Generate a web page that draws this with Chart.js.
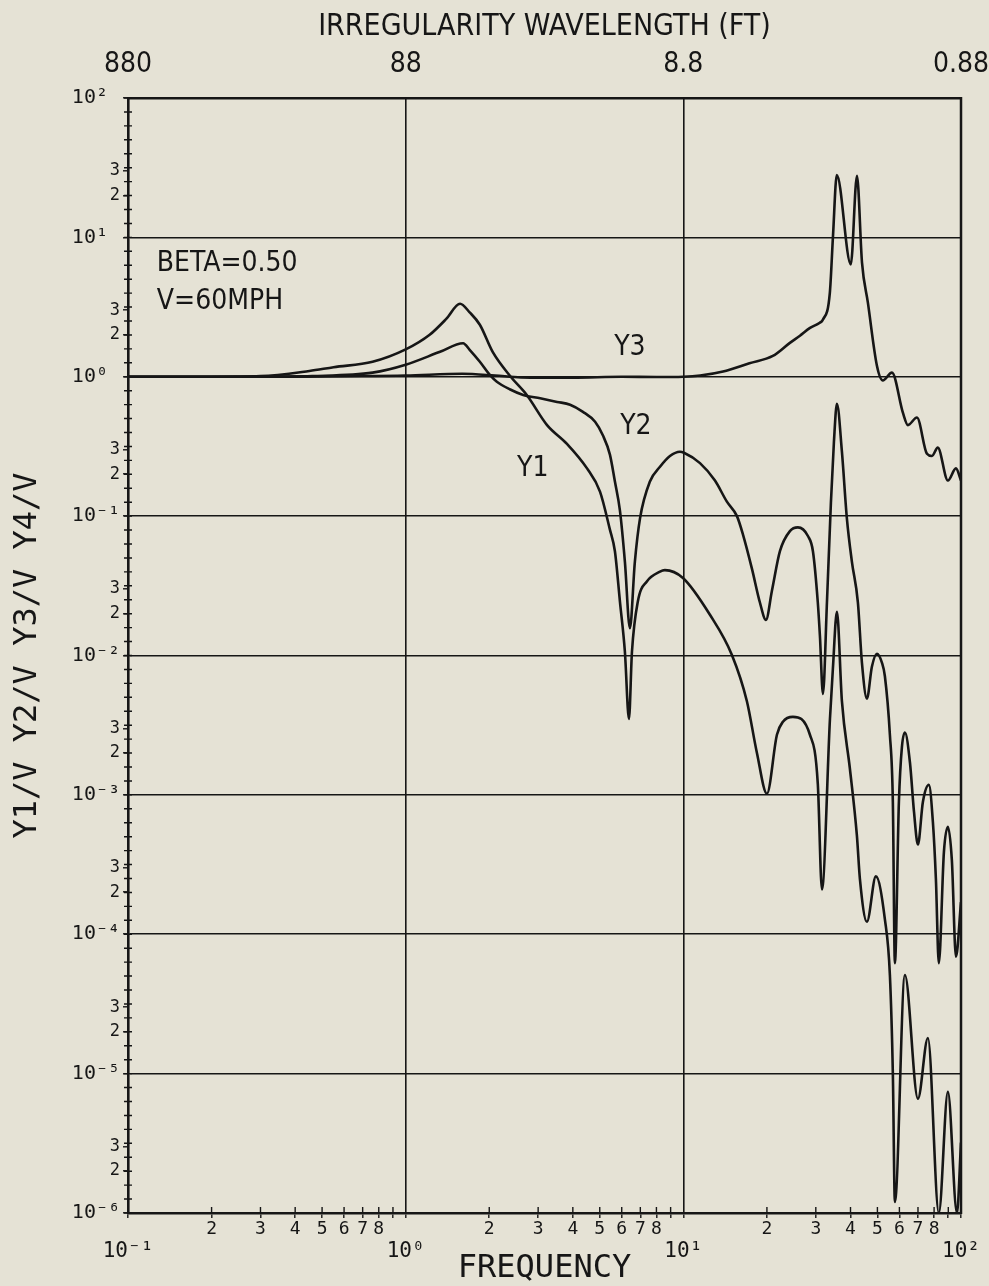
<!DOCTYPE html>
<html>
<head>
<meta charset="utf-8">
<script src="https://cdn.jsdelivr.net/npm/chart.js@4/dist/chart.umd.min.js"></script>
<style>
html, body { margin: 0; padding: 0; background: #e5e2d5; }
#wrap { width: 989px; height: 1286px; position: relative; }
</style>
</head>
<body>
<div id="wrap"><canvas id="c"></canvas></div>
<script>
// ---------------- data ----------------
const freqY1 = [0.1, 0.2, 0.30, 0.45, 0.55, 0.76, 1.0, 1.22, 1.40, 1.57, 1.70, 1.85, 2.06, 2.39, 2.73, 3.23, 3.81, 4.50, 5.01, 5.44, 5.67, 5.91, 6.16, 6.37, 6.53, 6.86, 7.39, 8.24, 8.58, 9.97, 12.47, 14.96, 16.94, 18.41, 20.0, 21.73, 22.84, 24.81, 28.57, 30.5, 31.56, 33.73, 34.57, 35.74, 37.25, 39.8, 42.18, 43.24, 45.83, 49.37, 53.2, 55.45, 56.83, 57.8, 62.8, 69.96, 76.0, 83.2, 89.7, 96.7, 100];
const valY1  = [1.0, 1.0, 1.01, 1.1, 1.17, 1.28, 1.57, 2.0, 2.6, 3.34, 2.9, 2.36, 1.5, 1.0, 0.74, 0.45, 0.33, 0.22, 0.15, 0.08, 0.056, 0.0245, 0.0106, 0.0035, 0.0106, 0.0245, 0.034, 0.040, 0.041, 0.036, 0.0196, 0.0101, 0.0047, 0.0020, 0.00102, 0.0027, 0.00335, 0.00363, 0.0027, 0.0012, 0.00021, 0.0035, 0.0081, 0.0206, 0.0047, 0.00154, 0.00051, 0.00025, 0.000123, 0.00026, 0.000128, 5.1e-5, 1.0e-5, 1.2e-6, 5.1e-5, 6.6e-6, 1.8e-5, 1.0e-6, 7.4e-6, 1.0e-6, 3.2e-6];

const freqY2 = [0.1, 0.3, 0.46, 0.76, 1.0, 1.33, 1.61, 1.70, 1.85, 2.01, 2.13, 2.38, 2.65, 3.05, 3.51, 3.91, 4.35, 4.81, 5.13, 5.44, 5.67, 5.91, 6.16, 6.42, 6.69, 6.98, 7.58, 8.24, 8.95, 9.72, 10.05, 11.48, 13.0, 14.35, 15.6, 16.39, 17.66, 18.87, 19.84, 20.84, 22.28, 24.2, 25.86, 28.1, 29.29, 30.5, 31.04, 31.83, 32.9, 34.0, 34.86, 35.74, 37.25, 38.82, 40.47, 42.53, 43.97, 45.83, 47.76, 49.78, 51.9, 53.2, 55.45, 56.83, 57.8, 59.75, 61.26, 62.8, 65.5, 67.7, 69.96, 72.9, 76.6, 79.2, 81.2, 83.2, 86.8, 89.7, 92.7, 95.9, 100];
const valY2  = [1.0, 1.0, 1.01, 1.07, 1.22, 1.51, 1.74, 1.56, 1.28, 1.03, 0.92, 0.81, 0.74, 0.70, 0.66, 0.63, 0.56, 0.475, 0.38, 0.276, 0.177, 0.11, 0.047, 0.0157, 0.047, 0.096, 0.177, 0.226, 0.27, 0.29, 0.285, 0.24, 0.18, 0.127, 0.10, 0.074, 0.042, 0.024, 0.018, 0.029, 0.056, 0.078, 0.083, 0.072, 0.056, 0.024, 0.0138, 0.0053, 0.024, 0.125, 0.34, 0.64, 0.29, 0.096, 0.047, 0.024, 0.0089, 0.0049, 0.0083, 0.0103, 0.0089, 0.0071, 0.0027, 0.00089, 6.2e-5, 0.00089, 0.0022, 0.0028, 0.0017, 0.00076, 0.00044, 0.00089, 0.00118, 0.00064, 0.00025, 6.2e-5, 0.00039, 0.00059, 0.00034, 6.9e-5, 0.00017];

const freqY3 = [0.1, 0.3, 0.6, 1.0, 1.6, 2.1, 2.6, 4.0, 6.0, 8.0, 10.0, 11.5, 13.9, 17.3, 21.0, 24.2, 26.3, 28.6, 31.0, 31.8, 33.7, 34.6, 35.7, 40.1, 42.2, 44.0, 46.2, 49.8, 52.3, 56.4, 61.8, 64.4, 69.4, 75.4, 78.6, 82.5, 89.7, 95.9, 100];
const valY3  = [1.0, 1.0, 1.01, 1.02, 1.05, 1.02, 0.99, 0.985, 1.0, 0.995, 1.0, 1.02, 1.09, 1.25, 1.41, 1.75, 1.97, 2.24, 2.44, 2.56, 4.0, 10.3, 28.0, 6.4, 27.7, 6.6, 3.4, 1.2, 0.94, 1.07, 0.55, 0.45, 0.51, 0.28, 0.27, 0.31, 0.18, 0.22, 0.18];

// ---------------- axis ticks / labels ----------------
const xDecades = [0.1, 1, 10, 100];
const xDecadeLabels = ['10\u207B\u00B9', '10\u2070', '10\u00B9', '10\u00B2'];
const xMinorMultipliers = [2, 3, 4, 5, 6, 7, 8, 9];
const xMinorLabels = ['2', '3', '4', '5', '6', '7', '8', ''];
const topWavelengthLabels = ['880', '88', '8.8', '0.88'];

const yDecades = [1e-6, 1e-5, 1e-4, 1e-3, 1e-2, 1e-1, 1, 10, 100];
const yDecadeLabels = ['10\u207B\u2076', '10\u207B\u2075', '10\u207B\u2074', '10\u207B\u00B3', '10\u207B\u00B2', '10\u207B\u00B9', '10\u2070 ', '10\u00B9 ', '10\u00B2 '];
const yMinorMultipliers = [2, 3];
const yMinorLabels = ['2', '3'];

// text notes placed in data coordinates
const noteTexts = ['BETA=0.50', 'V=60MPH', 'Y1', 'Y2', 'Y3'];
const noteFreq  = [0.127, 0.127, 2.87, 6.75, 6.42];
const noteValue = [6.47, 3.45, 0.219, 0.438, 1.61];
const noteAlign = ['left', 'left', 'center', 'center', 'center'];

// ---------------- chart ----------------
const INK = '#161616';
const MONO = "'DejaVu Sans Mono', 'Liberation Mono', monospace";
const NARROW = "'Liberation Sans Narrow', 'DejaVu Sans Condensed', 'Roboto Condensed', sans-serif";

const isDecade = v => Math.abs(Math.log10(v) - Math.round(Math.log10(v))) < 1e-6;
const mantissa = v => Math.round(v / Math.pow(10, Math.floor(Math.log10(v) + 1e-9)));
const decadeIndex = (arr, v) => arr.findIndex(d => Math.abs(Math.log10(d) - Math.log10(v)) < 1e-6);

function makeTicks(decades, mults) {
  const t = [];
  decades.forEach((d, i) => {
    t.push({ value: d });
    if (i < decades.length - 1) mults.forEach(m => t.push({ value: d * m }));
  });
  return t;
}

const toPoints = (fs, vs) => fs.map((f, i) => ({ x: f, y: vs[i] }));
const lineStyle = {
  borderColor: INK, borderWidth: 2.6, pointRadius: 0, fill: false,
  cubicInterpolationMode: 'monotone'
};

const extras = {
  id: 'extras',
  afterDatasetsDraw(chart) {
    const { ctx, chartArea: a, scales } = chart;
    const x = scales.x, y = scales.y;
    ctx.save();
    ctx.strokeStyle = INK;
    ctx.lineWidth = 2.5;
    ctx.beginPath();
    ctx.moveTo(a.right, a.top - 1);
    ctx.lineTo(a.right, a.bottom + 1);
    ctx.stroke();
    // fine ticks on the left axis: every tenth of a decade
    ctx.lineWidth = 1.4;
    ctx.beginPath();
    for (let k = -60; k <= 20; k++) {
      const py = y.getPixelForValue(Math.pow(10, k / 10));
      ctx.moveTo(a.left - 4, py);
      ctx.lineTo(a.left + 4, py);
    }
    // inward ticks on the bottom axis
    xDecades.slice(0, -1).forEach(d => xMinorMultipliers.forEach(m => {
      const px = x.getPixelForValue(d * m);
      ctx.moveTo(px, a.bottom);
      ctx.lineTo(px, a.bottom - 6);
    }));
    ctx.stroke();
    // notes
    ctx.fillStyle = INK;
    ctx.textBaseline = 'middle';
    ctx.font = "28px " + NARROW;
    noteTexts.forEach((t, i) => {
      ctx.textAlign = noteAlign[i];
      ctx.fillText(t, x.getPixelForValue(noteFreq[i]), y.getPixelForValue(noteValue[i]));
    });
    ctx.restore();
  }
};

const noSidePad = s => { s.paddingLeft = 0; s.paddingRight = 0; };

new Chart(document.getElementById('c'), {
  type: 'line',
  data: {
    datasets: [
      Object.assign({ label: 'Y1', data: toPoints(freqY1, valY1) }, lineStyle),
      Object.assign({ label: 'Y2', data: toPoints(freqY2, valY2) }, lineStyle),
      Object.assign({ label: 'Y3', data: toPoints(freqY3, valY3) }, lineStyle)
    ]
  },
  options: {
    responsive: true,
    maintainAspectRatio: false,
    animation: false,
    layout: { padding: { left: 0, right: 28, top: 0, bottom: 0 } },
    plugins: { legend: { display: false }, tooltip: { enabled: false } },
    scales: {
      x: {
        type: 'logarithmic', position: 'bottom', min: 0.1, max: 100,
        afterBuildTicks: s => { s.ticks = makeTicks(xDecades, xMinorMultipliers); },
        afterFit: s => { s.height = 73; noSidePad(s); },
        grid: {
          color: c => (c.tick && isDecade(c.tick.value)) ? INK : 'rgba(0,0,0,0)',
          lineWidth: 1.6, drawTicks: true, tickLength: 5, tickColor: INK, tickWidth: 1.4
        },
        border: { display: true, color: INK, width: 2.6 },
        ticks: {
          autoSkip: false, maxRotation: 0, padding: 2, color: INK,
          font: c => (c.tick && isDecade(c.tick.value))
            ? { family: MONO, size: 21, lineHeight: 1.0 }
            : { family: MONO, size: 18, lineHeight: 1.0 },
          callback: v => {
            const di = decadeIndex(xDecades, v);
            if (di >= 0) return ['', xDecadeLabels[di]];
            return xMinorLabels[xMinorMultipliers.indexOf(mantissa(v))] || '';
          }
        },
        title: {
          display: true, text: 'FREQUENCY', color: INK,
          font: { family: MONO, size: 32, lineHeight: 1.0 },
          padding: { top: 0, bottom: 1 }
        }
      },
      xTop: {
        type: 'logarithmic', position: 'top', min: 0.1, max: 100,
        afterBuildTicks: s => { s.ticks = xDecades.map(v => ({ value: v })); },
        afterFit: s => { s.height = 98; noSidePad(s); },
        grid: { display: false },
        border: { display: true, color: INK, width: 2.6 },
        ticks: {
          autoSkip: false, maxRotation: 0, padding: 11, color: INK,
          font: { family: NARROW, size: 28, lineHeight: 1.0 },
          callback: v => topWavelengthLabels[decadeIndex(xDecades, v)] || ''
        },
        title: {
          display: true, text: 'IRREGULARITY WAVELENGTH (FT)', color: INK,
          font: { family: NARROW, size: 30, lineHeight: 1.0 },
          padding: { top: 12, bottom: 0 }
        }
      },
      y: {
        type: 'logarithmic', position: 'left', min: 1e-6, max: 100,
        afterBuildTicks: s => { s.ticks = makeTicks(yDecades, yMinorMultipliers); },
        afterFit: s => { s.width = 128; },
        grid: {
          color: c => (c.tick && isDecade(c.tick.value)) ? INK : 'rgba(0,0,0,0)',
          lineWidth: 1.6, drawTicks: true, tickLength: 5, tickColor: INK, tickWidth: 1.4
        },
        border: { display: true, color: INK, width: 2.6 },
        ticks: {
          autoSkip: false, padding: 3, color: INK,
          font: c => (c.tick && isDecade(c.tick.value))
            ? { family: MONO, size: 20, lineHeight: 1.0 }
            : { family: MONO, size: 17, lineHeight: 1.0 },
          callback: v => {
            const di = decadeIndex(yDecades, v);
            if (di >= 0) return yDecadeLabels[di];
            return yMinorLabels[yMinorMultipliers.indexOf(mantissa(v))] || '';
          }
        },
        title: {
          display: true, text: 'Y1/V Y2/V Y3/V Y4/V', color: INK,
          font: { family: MONO, size: 32, lineHeight: 1.0 },
          padding: { top: 12, bottom: 0 }
        }
      }
    }
  },
  plugins: [extras]
});
</script>
</body>
</html>
